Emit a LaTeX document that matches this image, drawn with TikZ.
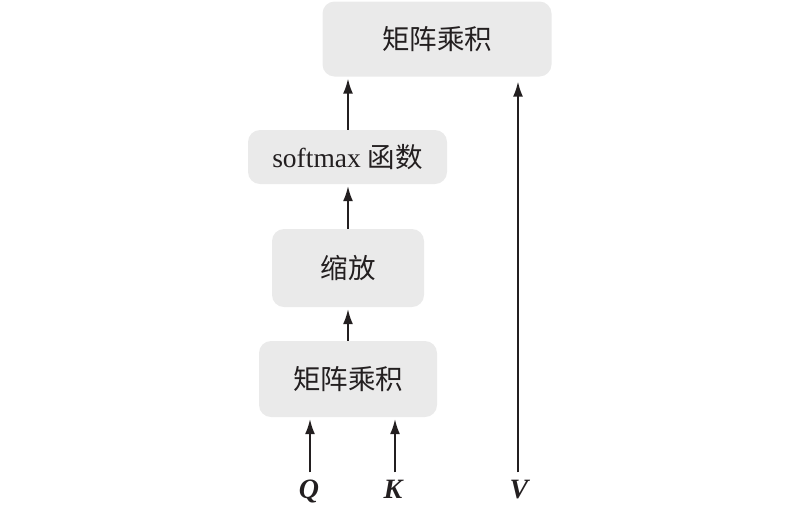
\documentclass[tikz,border=0pt]{standalone}
\usepackage{fontspec}
\setmainfont{Liberation Serif}
\newfontfamily\cjk{Noto Sans CJK SC}
\usetikzlibrary{arrows.meta}
\definecolor{boxgray}{HTML}{EAEAEA}
\definecolor{ink}{HTML}{231F20}
\begin{document}
\begin{tikzpicture}[x=1pt,y=-1pt,
  box/.style={fill=boxgray, rounded corners=12pt, inner sep=0pt, text=ink,
    font=\fontsize{27.5}{30}\selectfont},
  lbl/.style={inner sep=0pt, text=ink, anchor=base, font=\fontsize{28}{30}\selectfont\bfseries\itshape},
  arr/.style={draw=ink, line width=1.6pt, -{Latex[length=15pt,width=10pt]}}]
\useasboundingbox (0,0) rectangle (800,507);
\node[box, minimum width=229, minimum height=75] (mm2) at (437,39) {\cjk 矩阵乘积};
\node[box, minimum width=199, minimum height=54] (sm) at (347.5,157) {softmax {\cjk 函数}};
\node[box, minimum width=152, minimum height=78] (sc) at (348,268) {\cjk 缩放};
\node[box, minimum width=178, minimum height=76] (mm1) at (348,379) {\cjk 矩阵乘积};
\node[lbl] (Q) at (309,498) {Q};
\node[lbl] (K) at (393,498) {K};
\node[lbl] (V) at (519,498) {V};
\draw[arr, shorten <=7pt, shorten >=2pt] ([xshift=1pt]Q.north) -- ([xshift=1pt]Q.north |- mm1.south);
\draw[arr, shorten <=7pt, shorten >=2pt] ([xshift=2pt]K.north) -- ([xshift=2pt]K.north |- mm1.south);
\draw[arr, shorten <=7pt, shorten >=5pt] ([xshift=-1pt]V.north) -- ([xshift=-1pt]V.north |- mm2.south);
\draw[arr, shorten >=2pt] (mm1.north) -- (sc.south);
\draw[arr, shorten >=2pt] (sc.north) -- (sc.north |- sm.south);
\draw[arr, shorten >=2pt] (sc.north |- sm.north) -- (sc.north |- mm2.south);
\end{tikzpicture}
\end{document}
